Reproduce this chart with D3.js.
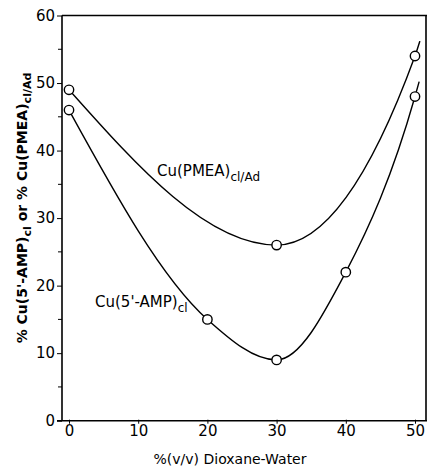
<!DOCTYPE html>
<html>
<head>
<meta charset="utf-8">
<script src="https://cdn.jsdelivr.net/npm/d3@7"></script>
<style>
  body { margin: 0; background: #fff; }
  text { font-family: "DejaVu Sans", sans-serif; fill: #000; }
</style>
</head>
<body>
<script>
const width = 427;
const height = 467;

// dioxane content, % (v/v)
const pmeaX = [0, 30, 50];
const pmeaY = [49, 26, 54];
const ampX = [0, 20, 30, 40, 50];
const ampY = [46, 15, 9, 22, 48];
// where the drawn curves stop past the last point
const pmeaTail = [50.7, 56.2];
const ampTail = [50.6, 50.2];

const xTicks = [0, 10, 20, 30, 40, 50];
const yTicks = [0, 10, 20, 30, 40, 50, 60];
const yMinor = [5, 15, 25, 35, 45, 55];

const svg = d3.select('body')
  .append('svg')
  .attr('width', width)
  .attr('height', height);

const x = d3.scaleLinear().domain([0, 50]).range([69, 415]);
const y = d3.scaleLinear().domain([0, 60]).range([420.7, 15.5]);

// frame
svg.append('path')
  .attr('d', `M62,${y(60)} H427 M62,${y(60)} V${y(0)} M57,${y(0)} H427 M426,${y(60)} V${y(0)}`)
  .attr('stroke', 'black')
  .attr('stroke-width', 1.6)
  .attr('fill', 'none');

const yAxis = d3.axisLeft(y).tickValues(yTicks).tickSize(5).tickPadding(2);
const gy = svg.append('g').attr('transform', 'translate(62,0)').call(yAxis);
gy.select('.domain').remove();
gy.selectAll('text').attr('font-size', 15).style('font-family', 'DejaVu Sans');

svg.selectAll('.minor')
  .data(yMinor)
  .enter()
  .append('line')
  .attr('x1', 58)
  .attr('x2', 62)
  .attr('y1', d => y(d))
  .attr('y2', d => y(d))
  .attr('stroke', 'black');

const xAxis = d3.axisBottom(x).tickValues(xTicks).tickSize(4).tickPadding(2);
const gx = svg.append('g').attr('transform', `translate(0,${y(0) - 1})`).call(xAxis);
gx.select('.domain').remove();
gx.selectAll('text').attr('font-size', 15).style('font-family', 'DejaVu Sans');

// curves
const line = d3.line()
  .x(d => x(d[0]))
  .y(d => y(d[1]))
  .curve(d3.curveMonotoneX);

const series = [
  { xs: pmeaX, ys: pmeaY, tail: pmeaTail },
  { xs: ampX, ys: ampY, tail: ampTail }
];

series.forEach(s => {
  const pts = s.xs.map((v, i) => [v, s.ys[i]]).concat([s.tail]);
  svg.append('path')
    .datum(pts)
    .attr('d', line)
    .attr('fill', 'none')
    .attr('stroke', 'black')
    .attr('stroke-width', 1.4);

  svg.selectAll(null)
    .data(s.xs)
    .enter()
    .append('circle')
    .attr('cx', d => x(d))
    .attr('cy', (d, i) => y(s.ys[i]))
    .attr('r', 4.7)
    .attr('fill', 'white')
    .attr('stroke', 'black')
    .attr('stroke-width', 1.4);
});

// labels on the curves
const lab1 = svg.append('text').attr('x', 157).attr('y', 176).attr('font-size', 15);
lab1.append('tspan').text('Cu(PMEA)');
lab1.append('tspan').attr('dy', 5).attr('font-size', 12).text('cl/Ad');

const lab2 = svg.append('text').attr('x', 95).attr('y', 307).attr('font-size', 15);
lab2.append('tspan').text("Cu(5'-AMP)");
lab2.append('tspan').attr('dy', 5).attr('font-size', 12).text('cl');

// axis titles
svg.append('text')
  .attr('x', 230)
  .attr('y', 464)
  .attr('text-anchor', 'middle')
  .attr('font-size', 14)
  .text('%(v/v) Dioxane-Water');

const yt = svg.append('text')
  .attr('transform', 'translate(27,208) rotate(-90)')
  .attr('text-anchor', 'middle')
  .attr('font-size', 14)
  .attr('font-weight', 'bold');
yt.append('tspan').text("% Cu(5'-AMP)");
yt.append('tspan').attr('dy', 4).attr('font-size', 11).text('cl');
yt.append('tspan').attr('dy', -4).text(' or % Cu(PMEA)');
yt.append('tspan').attr('dy', 4).attr('font-size', 11).text('cl/Ad');
</script>
</body>
</html>
